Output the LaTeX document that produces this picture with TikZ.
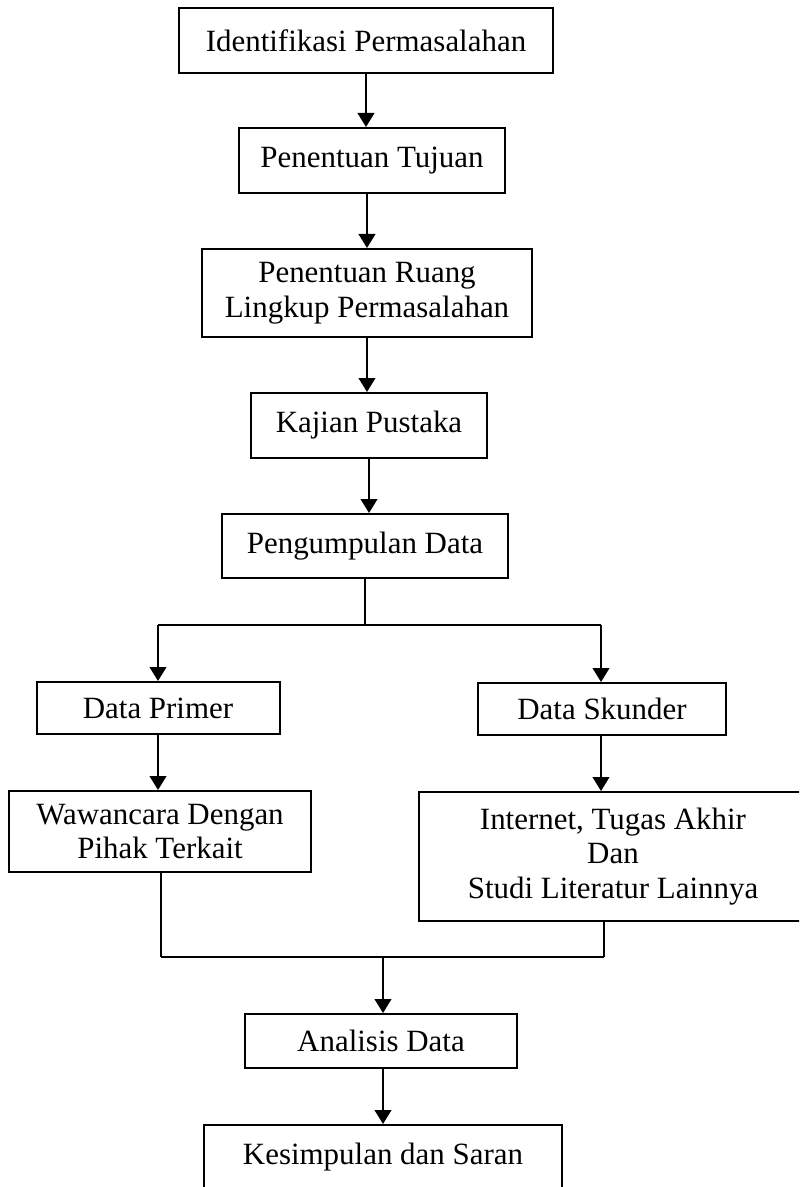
\documentclass[tikz,border=0pt]{standalone}
\usepackage{fontspec}
\setmainfont{Liberation Serif}
\usetikzlibrary{arrows.meta}
\begin{document}
\begin{tikzpicture}[x=0.75pt,y=-0.75pt,
  box/.style={draw, line width=1.5pt, inner sep=0pt, align=center,
    font=\fontsize{23.2}{26}\selectfont},
  link/.style={line width=1.5pt},
  arr/.style={line width=1.5pt, -{Triangle[length=10.5pt,width=12.5pt]}}]
\useasboundingbox (0,0) rectangle (799,1187);
\clip (0,0) rectangle (799,1187);
\fill[white] (0,0) rectangle (799,1187);
% boxes
\node[box, minimum width=374*0.75pt, minimum height=65*0.75pt] (b1) at (366,40.5) {Identifikasi Permasalahan};
\node[box, minimum width=266*0.75pt, minimum height=65*0.75pt] (b2) at (372,160.5) {Penentuan Tujuan};
\node[box, minimum width=330*0.75pt, minimum height=88*0.75pt] (b3) at (367,293) {Penentuan Ruang\\Lingkup Permasalahan};
\node[box, minimum width=236*0.75pt, minimum height=65*0.75pt] (b4) at (369,425.5) {Kajian Pustaka};
\node[box, minimum width=286*0.75pt, minimum height=64*0.75pt] (b5) at (365,546) {Pengumpulan Data};
\node[box, minimum width=243*0.75pt, minimum height=52*0.75pt] (b6) at (158,708) {Data Primer};
\node[box, minimum width=248*0.75pt, minimum height=52*0.75pt] (b7) at (602,709) {Data Skunder};
\node[box, minimum width=302*0.75pt, minimum height=81*0.75pt] (b8) at (160,831.5) {Wawancara Dengan\\Pihak Terkait};
\node[box, minimum width=388*0.75pt, minimum height=129*0.75pt] (b9) at (613,856.5) {Internet, Tugas Akhir\\Dan\\Studi Literatur Lainnya};
\node[box, minimum width=272*0.75pt, minimum height=54*0.75pt] (b10) at (381,1041) {Analisis Data};
\node[box, minimum width=358*0.75pt, minimum height=65*0.75pt] (b11) at (383,1157.5) {Kesimpulan dan Saran};
% junction points
\coordinate (sl) at (158,625);
\coordinate (sr) at (601,625);
\coordinate (ml) at (161,957);
\coordinate (mr) at (604,957);
\coordinate (mc) at (383,957);
% connectors
\draw[arr] (b1.south) -- (b1.south |- b2.north);
\draw[arr] (b3.north |- b2.south) -- (b3.north);
\draw[arr] (b3.south) -- (b3.south |- b4.north);
\draw[arr] (b4.south) -- (b4.south |- b5.north);
\draw[link] (b5.south) -- (b5.south |- sl);
\draw[link] (sl) -- (sr);
\draw[arr] (sl) -- (sl |- b6.north);
\draw[arr] (sr) -- (sr |- b7.north);
\draw[arr] (b6.south) -- (b6.south |- b8.north);
\draw[arr] (sr |- b7.south) -- (sr |- b9.north);
\draw[link] (ml |- b8.south) -- (ml);
\draw[link] (mr |- b9.south) -- (mr);
\draw[link] (ml) -- (mr);
\draw[arr] (mc) -- (mc |- b10.north);
\draw[arr] (b10.south -| mc) -- (mc |- b11.north);
\end{tikzpicture}
\end{document}
